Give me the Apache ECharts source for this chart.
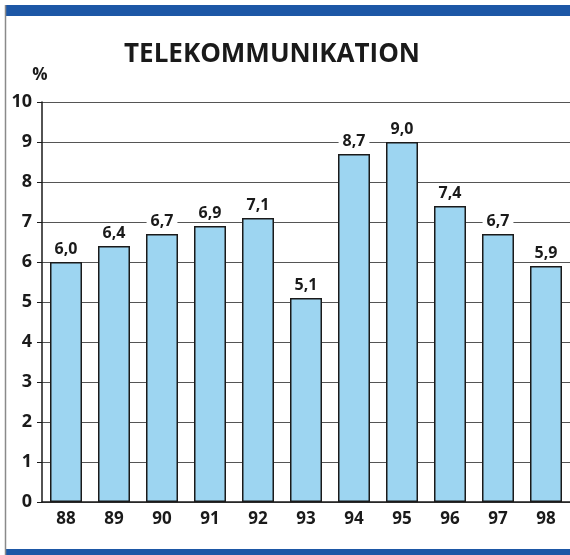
<!DOCTYPE html>
<html><head><meta charset="utf-8">
<script src="https://cdn.jsdelivr.net/npm/echarts@6/dist/echarts.min.js"></script>
<style>html,body{margin:0;padding:0;background:#fff}#c{width:570px;height:555px}</style>
</head><body><div id="c"></div>
<script>
const years = ['88','89','90','91','92','93','94','95','96','97','98'];
const values = [6.0, 6.4, 6.7, 6.9, 7.1, 5.1, 8.7, 9.0, 7.4, 6.7, 5.9];
const titleText = 'TELEKOMMUNIKATION';
const unitText = '%';
const FONT = '"Open Sans", sans-serif';
const chart = echarts.init(document.getElementById('c'), null, {renderer:'canvas'});
chart.setOption({
  animation:false,
  backgroundColor:'#fff',
  title:{text:titleText, left:267, top:37, textAlign:'center',
    textStyle:{fontFamily:FONT, fontSize:26, fontWeight:'bold', color:'#1a1a1a'}},
  grid:{left:42, right:0, top:102, bottom:53, containLabel:false},
  xAxis:{type:'category', data:years,
    axisLine:{lineStyle:{color:'#1a1a1a', width:1.5}},
    axisTick:{show:false},
    axisLabel:{fontFamily:FONT, fontSize:17, fontWeight:'bold', color:'#1a1a1a', margin:9}},
  yAxis:{type:'value', min:0, max:10, interval:1,
    name:unitText, nameLocation:'end', nameGap:18,
    nameTextStyle:{fontFamily:FONT, fontSize:17, fontWeight:'bold', color:'#1a1a1a', align:'center', padding:[0,0,0,-4]},
    axisLine:{show:true, lineStyle:{color:'#1a1a1a', width:1.5}},
    axisTick:{show:true, length:5, lineStyle:{color:'#1a1a1a'}},
    axisLabel:{fontFamily:FONT, fontSize:18, fontWeight:'bold', color:'#1a1a1a', margin:10},
    splitLine:{lineStyle:{color:'#555', width:1}}},
  series:[{type:'bar', data:values, barWidth:32,
    itemStyle:{color:'#9dd5f1', borderColor:'#1a1a1a', borderWidth:1.5},
    label:{show:true, position:'top', distance:4,
      formatter:p=>p.value.toFixed(1).replace('.',','),
      fontFamily:FONT, fontSize:16, fontWeight:'bold', color:'#1a1a1a',
      backgroundColor:'#fff', padding:[1,4]}}],
  graphic:[
    {type:'rect', shape:{x:5, y:5, width:565, height:11}, style:{fill:'#1d57a6'}},
    {type:'rect', shape:{x:5, y:549, width:565, height:6}, style:{fill:'#1d57a6'}},
    {type:'line', shape:{x1:5.5, y1:5, x2:5.5, y2:555}, style:{stroke:'#8a8a8a', lineWidth:1.5}}
  ]
});
</script></body></html>
